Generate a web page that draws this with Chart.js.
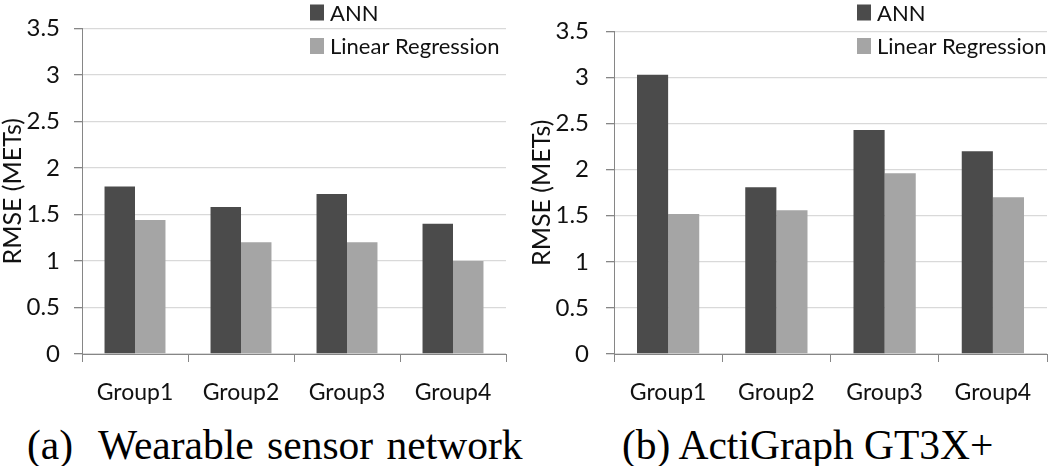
<!DOCTYPE html>
<html>
<head>
<meta charset="utf-8">
<script src="https://cdn.jsdelivr.net/npm/chart.js@4.4.1/dist/chart.umd.min.js"></script>
<style>
  html, body { margin: 0; padding: 0; background: #ffffff; }
  #wrap { position: relative; width: 1050px; height: 466px; overflow: hidden; }
  .panel { position: absolute; top: 0; width: 525px; height: 410px; }
  .cap { position: absolute; top: 425px; font-family: "Liberation Serif", "Times New Roman", serif;
         font-size: 41.5px; line-height: 41.5px; color: #000; white-space: pre; }
</style>
</head>
<body>
<div id="wrap">
  <div class="panel" style="left:0px;"><canvas id="c1" width="525" height="410"></canvas></div>
  <div class="panel" style="left:525px;"><canvas id="c2" width="525" height="410"></canvas></div>
  <div class="cap" style="left:27px;">(a)<span style="margin-left:25px; word-spacing:3px;">Wearable sensor network</span></div>
  <div class="cap" style="left:622px;">(b) ActiGraph GT3X+</div>
</div>
<script>
const categories = ['Group1', 'Group2', 'Group3', 'Group4'];
const seriesNames = ['ANN', 'Linear Regression'];
const annWearable = [1.80, 1.58, 1.72, 1.40];
const lrWearable = [1.44, 1.20, 1.20, 1.00];
const annActiGraph = [3.03, 1.81, 2.43, 2.20];
const lrActiGraph = [1.52, 1.56, 1.96, 1.70];
const yMin = 0, yMax = 3.5, yStep = 0.5;
const yTitle = 'RMSE (METs)';

const ANN_COLOR = '#4b4b4b';
const LR_COLOR = '#a5a5a5';
const AXIS_COLOR = '#868686';
const GRID_COLOR = '#d9d9d9';
const FONT = 'Lato, "Open Sans", sans-serif';

const legendPlugin = {
  id: 'sideLegend',
  afterDraw(chart, args, opts) {
    const ctx = chart.ctx;
    ctx.save();
    ctx.font = '22px ' + FONT;
    ctx.textBaseline = 'middle';
    ctx.textAlign = 'left';
    chart.data.datasets.forEach((ds, i) => {
      const cy = opts.y0 + i * opts.dy;
      ctx.fillStyle = ds.backgroundColor;
      ctx.fillRect(opts.x, cy - 8, 14, 16);
      ctx.fillStyle = '#111';
      ctx.fillText(ds.label, opts.x + 20, cy + 1);
    });
    ctx.restore();
  }
};

function makeChart(id, ann, lr, yWidth, padRight, tickPad, titlePad, legendX) {
  return new Chart(document.getElementById(id), {
    type: 'bar',
    data: {
      labels: categories,
      datasets: [
        { label: seriesNames[0], data: ann, backgroundColor: ANN_COLOR, borderWidth: 0,
          barPercentage: 1.0, categoryPercentage: 0.575 },
        { label: seriesNames[1], data: lr, backgroundColor: LR_COLOR, borderWidth: 0,
          barPercentage: 1.0, categoryPercentage: 0.575 }
      ]
    },
    options: {
      responsive: false,
      animation: false,
      devicePixelRatio: 1,
      layout: { padding: { left: 0, right: padRight, top: 13, bottom: 0 } },
      plugins: {
        legend: { display: false },
        tooltip: { enabled: false },
        sideLegend: { x: legendX, y0: 12.5, dy: 33.5 }
      },
      scales: {
        x: {
          grid: { offset: true, drawOnChartArea: false, drawTicks: true, tickLength: 8,
                  color: AXIS_COLOR, tickColor: AXIS_COLOR },
          border: { display: true, color: AXIS_COLOR, width: 1 },
          ticks: { color: '#111', font: { family: FONT, size: 23 }, padding: 17 },
          afterFit(scale) { scale.height = 56; }
        },
        y: {
          min: yMin, max: yMax,
          ticks: { stepSize: yStep, color: '#111', font: { family: FONT, size: 24 }, padding: tickPad,
                   callback: (v) => String(Number(v)) },
          grid: { color: GRID_COLOR, tickColor: AXIS_COLOR, tickLength: 8, lineWidth: 1.3 },
          border: { display: true, color: AXIS_COLOR, width: 1 },
          title: { display: true, text: yTitle, color: '#111',
                   font: { family: FONT, size: 25, lineHeight: 1 }, padding: { top: titlePad, bottom: 0 } },
          afterFit(scale) { scale.width = yWidth; }
        }
      }
    },
    plugins: [legendPlugin]
  });
}

makeChart('c1', annWearable, lrWearable, 82, 19, 14, 0, 310);
makeChart('c2', annActiGraph, lrActiGraph, 89, 3, 17, 4, 332);
</script>
</body>
</html>
